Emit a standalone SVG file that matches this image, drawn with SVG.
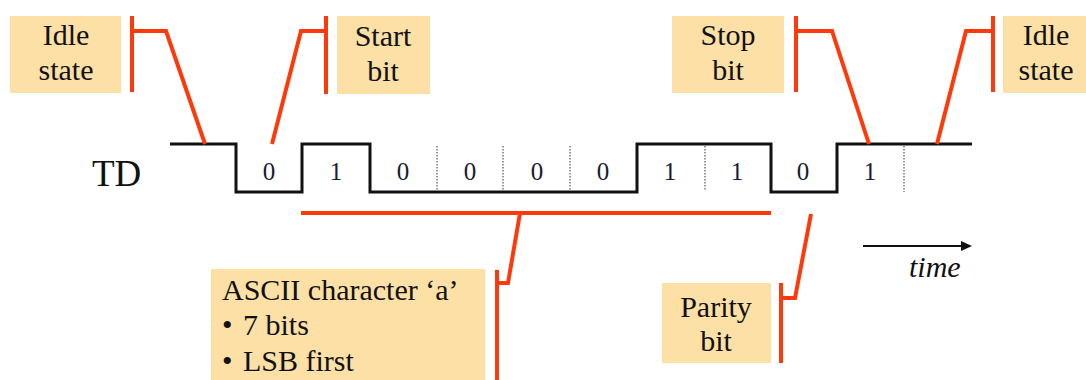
<svg xmlns="http://www.w3.org/2000/svg" width="1086" height="380" viewBox="0 0 1086 380">
  <style>
    .box { fill: #FDE0A6; }
    .sig { fill: none; stroke: #111; stroke-width: 3; stroke-linejoin: miter; }
    .tick { stroke: #777; stroke-width: 1.5; stroke-dasharray: 1.5 1.5; }
    .lead { fill: none; stroke: #FF3A0A; stroke-width: 4; stroke-linejoin: miter; }
  </style>
  <rect width="1086" height="380" fill="#fff"/>

  <!-- TD waveform: one bit cell is about 67 px wide -->
  <g id="td-signal">
    <text x="92" y="186" font-family="Liberation Serif" font-size="37" fill="#111">TD</text>
    <path class="sig" d="M170,144 H236 V192 H302 V144 H370 V192 H637 V144 H771 V192 H837 V144 H972"/>
    <line class="tick" x1="437" y1="146" x2="437" y2="190"/>
    <line class="tick" x1="503" y1="146" x2="503" y2="190"/>
    <line class="tick" x1="570" y1="146" x2="570" y2="190"/>
    <line class="tick" x1="705" y1="146" x2="705" y2="190"/>
    <line class="tick" x1="904" y1="146" x2="904" y2="192"/>
    <text x="269" y="180" font-family="Liberation Serif" font-size="25" fill="#1a1a33" text-anchor="middle">0</text>
    <text x="336" y="180" font-family="Liberation Serif" font-size="25" fill="#1a1a33" text-anchor="middle">1</text>
    <text x="403" y="180" font-family="Liberation Serif" font-size="25" fill="#1a1a33" text-anchor="middle">0</text>
    <text x="470" y="180" font-family="Liberation Serif" font-size="25" fill="#1a1a33" text-anchor="middle">0</text>
    <text x="537" y="180" font-family="Liberation Serif" font-size="25" fill="#1a1a33" text-anchor="middle">0</text>
    <text x="603" y="180" font-family="Liberation Serif" font-size="25" fill="#1a1a33" text-anchor="middle">0</text>
    <text x="670" y="180" font-family="Liberation Serif" font-size="25" fill="#1a1a33" text-anchor="middle">1</text>
    <text x="737" y="180" font-family="Liberation Serif" font-size="25" fill="#1a1a33" text-anchor="middle">1</text>
    <text x="803" y="180" font-family="Liberation Serif" font-size="25" fill="#1a1a33" text-anchor="middle">0</text>
    <text x="870" y="180" font-family="Liberation Serif" font-size="25" fill="#1a1a33" text-anchor="middle">1</text>
  </g>

  <!-- callout labels -->
  <g id="idle-left">
    <rect class="box" x="10" y="16" width="111" height="77"/>
    <text x="66" y="45" font-family="Liberation Serif" font-size="30" fill="#111" text-anchor="middle">Idle</text>
    <text x="66" y="80" font-family="Liberation Serif" font-size="30" fill="#111" text-anchor="middle">state</text>
  </g>
  <g id="start-bit">
    <rect class="box" x="337" y="16" width="93" height="78"/>
    <text x="383" y="46" font-family="Liberation Serif" font-size="30" fill="#111" text-anchor="middle">Start</text>
    <text x="383" y="81" font-family="Liberation Serif" font-size="30" fill="#111" text-anchor="middle">bit</text>
  </g>
  <g id="stop-bit">
    <rect class="box" x="672" y="16" width="112" height="77"/>
    <text x="728" y="45" font-family="Liberation Serif" font-size="30" fill="#111" text-anchor="middle">Stop</text>
    <text x="728" y="80" font-family="Liberation Serif" font-size="30" fill="#111" text-anchor="middle">bit</text>
  </g>
  <g id="idle-right">
    <rect class="box" x="1003" y="16" width="83" height="77"/>
    <text x="1046" y="45" font-family="Liberation Serif" font-size="30" fill="#111" text-anchor="middle">Idle</text>
    <text x="1046" y="80" font-family="Liberation Serif" font-size="30" fill="#111" text-anchor="middle">state</text>
  </g>
  <g id="ascii-char">
    <rect class="box" x="211" y="269" width="274" height="111"/>
    <text x="222" y="300" font-family="Liberation Serif" font-size="30" fill="#111">ASCII character ‘a’</text>
    <text x="222" y="335" font-family="Liberation Serif" font-size="30" fill="#111">•</text>
    <text x="243" y="335" font-family="Liberation Serif" font-size="30" fill="#111">7 bits</text>
    <text x="222" y="371" font-family="Liberation Serif" font-size="30" fill="#111">•</text>
    <text x="243" y="371" font-family="Liberation Serif" font-size="30" fill="#111">LSB first</text>
  </g>
  <g id="parity-bit">
    <rect class="box" x="662" y="283" width="109" height="80"/>
    <text x="716" y="317" font-family="Liberation Serif" font-size="30" fill="#111" text-anchor="middle">Parity</text>
    <text x="716" y="351" font-family="Liberation Serif" font-size="30" fill="#111" text-anchor="middle">bit</text>
  </g>
  <g id="time-axis">
    <line x1="863" y1="246" x2="962" y2="246" stroke="#111" stroke-width="2"/>
    <path d="M961,241 L972,246 L961,251 Z" fill="#111"/>
    <text x="909" y="277" font-family="Liberation Serif" font-size="30" font-style="italic" fill="#111">time</text>
  </g>

  <!-- leader lines -->
  <g id="connectors">
    <path class="lead" d="M132,16 V92 M132,31 H166 L205,144"/>
    <path class="lead" d="M326,16 V94 M326,31 H301 L272,144"/>
    <path class="lead" d="M796,16 V92 M796,31 H832 L869,144"/>
    <path class="lead" d="M993,16 V92 M993,31 H966 L937,144"/>
    <path class="lead" d="M301,213 H771 M520,213 L508,283 H497 M497,270 V380"/>
    <path class="lead" d="M811,214 L795,298 H781 M781,283 V363"/>
  </g>
</svg>
